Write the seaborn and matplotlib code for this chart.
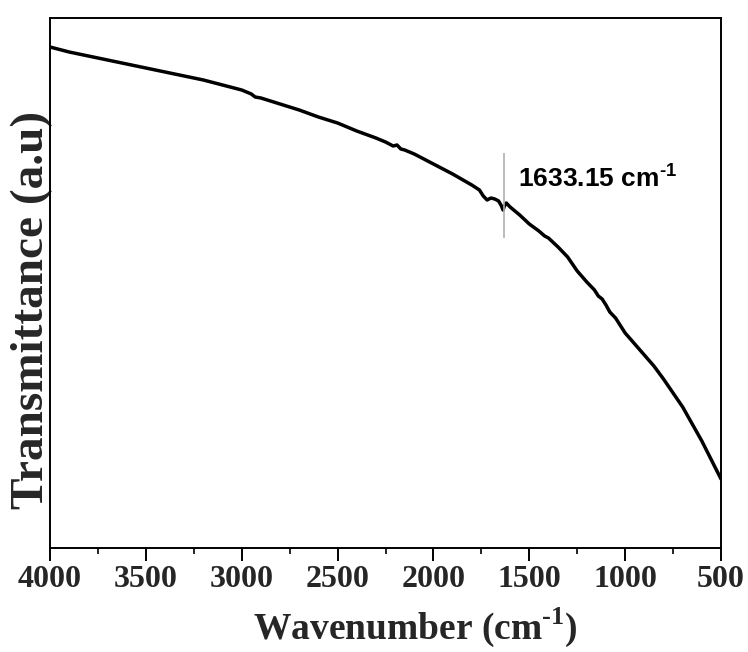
import matplotlib
matplotlib.use("Agg")
import matplotlib.pyplot as plt
from matplotlib.ticker import MultipleLocator
import seaborn as sns
import pandas as pd

# ---- data ----
wavenumber = [4000, 3900, 3800, 3700, 3600, 3500, 3400, 3300, 3200, 3100,
              3000, 2950, 2930, 2900, 2800, 2700, 2600, 2500, 2400, 2300,
              2250, 2230, 2210, 2190, 2170, 2150, 2100, 2000, 1900, 1800,
              1760, 1740, 1720, 1700, 1680, 1660, 1645, 1637, 1630, 1620,
              1600, 1550, 1500, 1450, 1420, 1400, 1350, 1300, 1250, 1200,
              1160, 1140, 1120, 1100, 1080, 1050, 1000, 950, 900, 850,
              800, 750, 700, 650, 600, 550, 500]
transmittance = [501, 496, 492, 488, 484, 480, 476, 472, 468, 463,
                 458, 454, 451, 450, 444, 438, 431, 425, 417, 410,
                 406, 404, 402, 403, 399, 398, 394, 384, 374, 363,
                 358, 352, 348, 350, 349, 347, 342, 338, 342, 345,
                 341, 333, 324, 317, 312, 310, 301, 291, 277, 266,
                 258, 252, 249, 243, 236, 230, 215, 204, 193, 182,
                 169, 155, 141, 124, 107, 88, 69]
peak_wn = 1633.15
peak_label = "1633.15 cm$^{\\mathsf{\u2010}\\mathsf{1}}$"
xlabel = "Wavenumber (cm$^{\\mathbf{\u2010}\\mathbf{1}}$)"
ylabel = "Transmittance (a.u)"
xticks = [4000, 3500, 3000, 2500, 2000, 1500, 1000, 500]

df = pd.DataFrame({"wn": wavenumber, "T": transmittance})

sns.set_theme(style="ticks")
plt.rcParams['font.family'] = ['Liberation Serif', 'DejaVu Serif']
plt.rcParams['mathtext.fontset'] = 'custom'
plt.rcParams['mathtext.bf'] = 'Liberation Serif:bold'
plt.rcParams['mathtext.rm'] = 'Liberation Serif'
plt.rcParams['mathtext.sf'] = 'Liberation Sans:bold'

fig = plt.figure(figsize=(7.48, 6.52), dpi=100)
ax = fig.add_axes([50/748, 1-548/652, (721-50)/748, (548-18)/652])

sns.lineplot(data=df, x="wn", y="T", ax=ax, color="black", linewidth=2.5,
             sort=False, estimator=None)

ax.set_xlim(4000, 500)
ax.set_ylim(0, 530)
ax.set_xticks(xticks)
ax.set_xticklabels([str(t) for t in xticks], fontsize=23, fontweight='bold')
ax.xaxis.set_minor_locator(MultipleLocator(250))
ax.set_yticks([])
ax.tick_params(axis='x', which='major', direction='out', length=9, width=1.4,
               color='black', pad=3)
ax.tick_params(axis='x', which='minor', direction='out', length=4.5, width=1.2,
               color='black')
for s in ax.spines.values():
    s.set_visible(True)
    s.set_linewidth(1.4)
    s.set_color('black')

ax.set_xlabel(xlabel, fontsize=27, fontweight='bold')
ax.xaxis.set_label_coords(0.545, -0.108, transform=ax.transAxes)
ax.xaxis.label.set_va('top')
ax.set_ylabel(ylabel, fontsize=34, fontweight='bold')
ax.yaxis.set_label_coords(-0.027, 0.449, transform=ax.transAxes)
ax.yaxis.label.set_va('center')

# peak marker
ax.vlines(peak_wn, 548-238, 548-153, color='#b0b0b0', linewidth=1.2)
ax.text(1559, 548-187, peak_label, fontsize=19, fontweight='bold',
        family='Liberation Sans', va='baseline', ha='left', color='black')

fig.savefig("out.png", dpi=100)
